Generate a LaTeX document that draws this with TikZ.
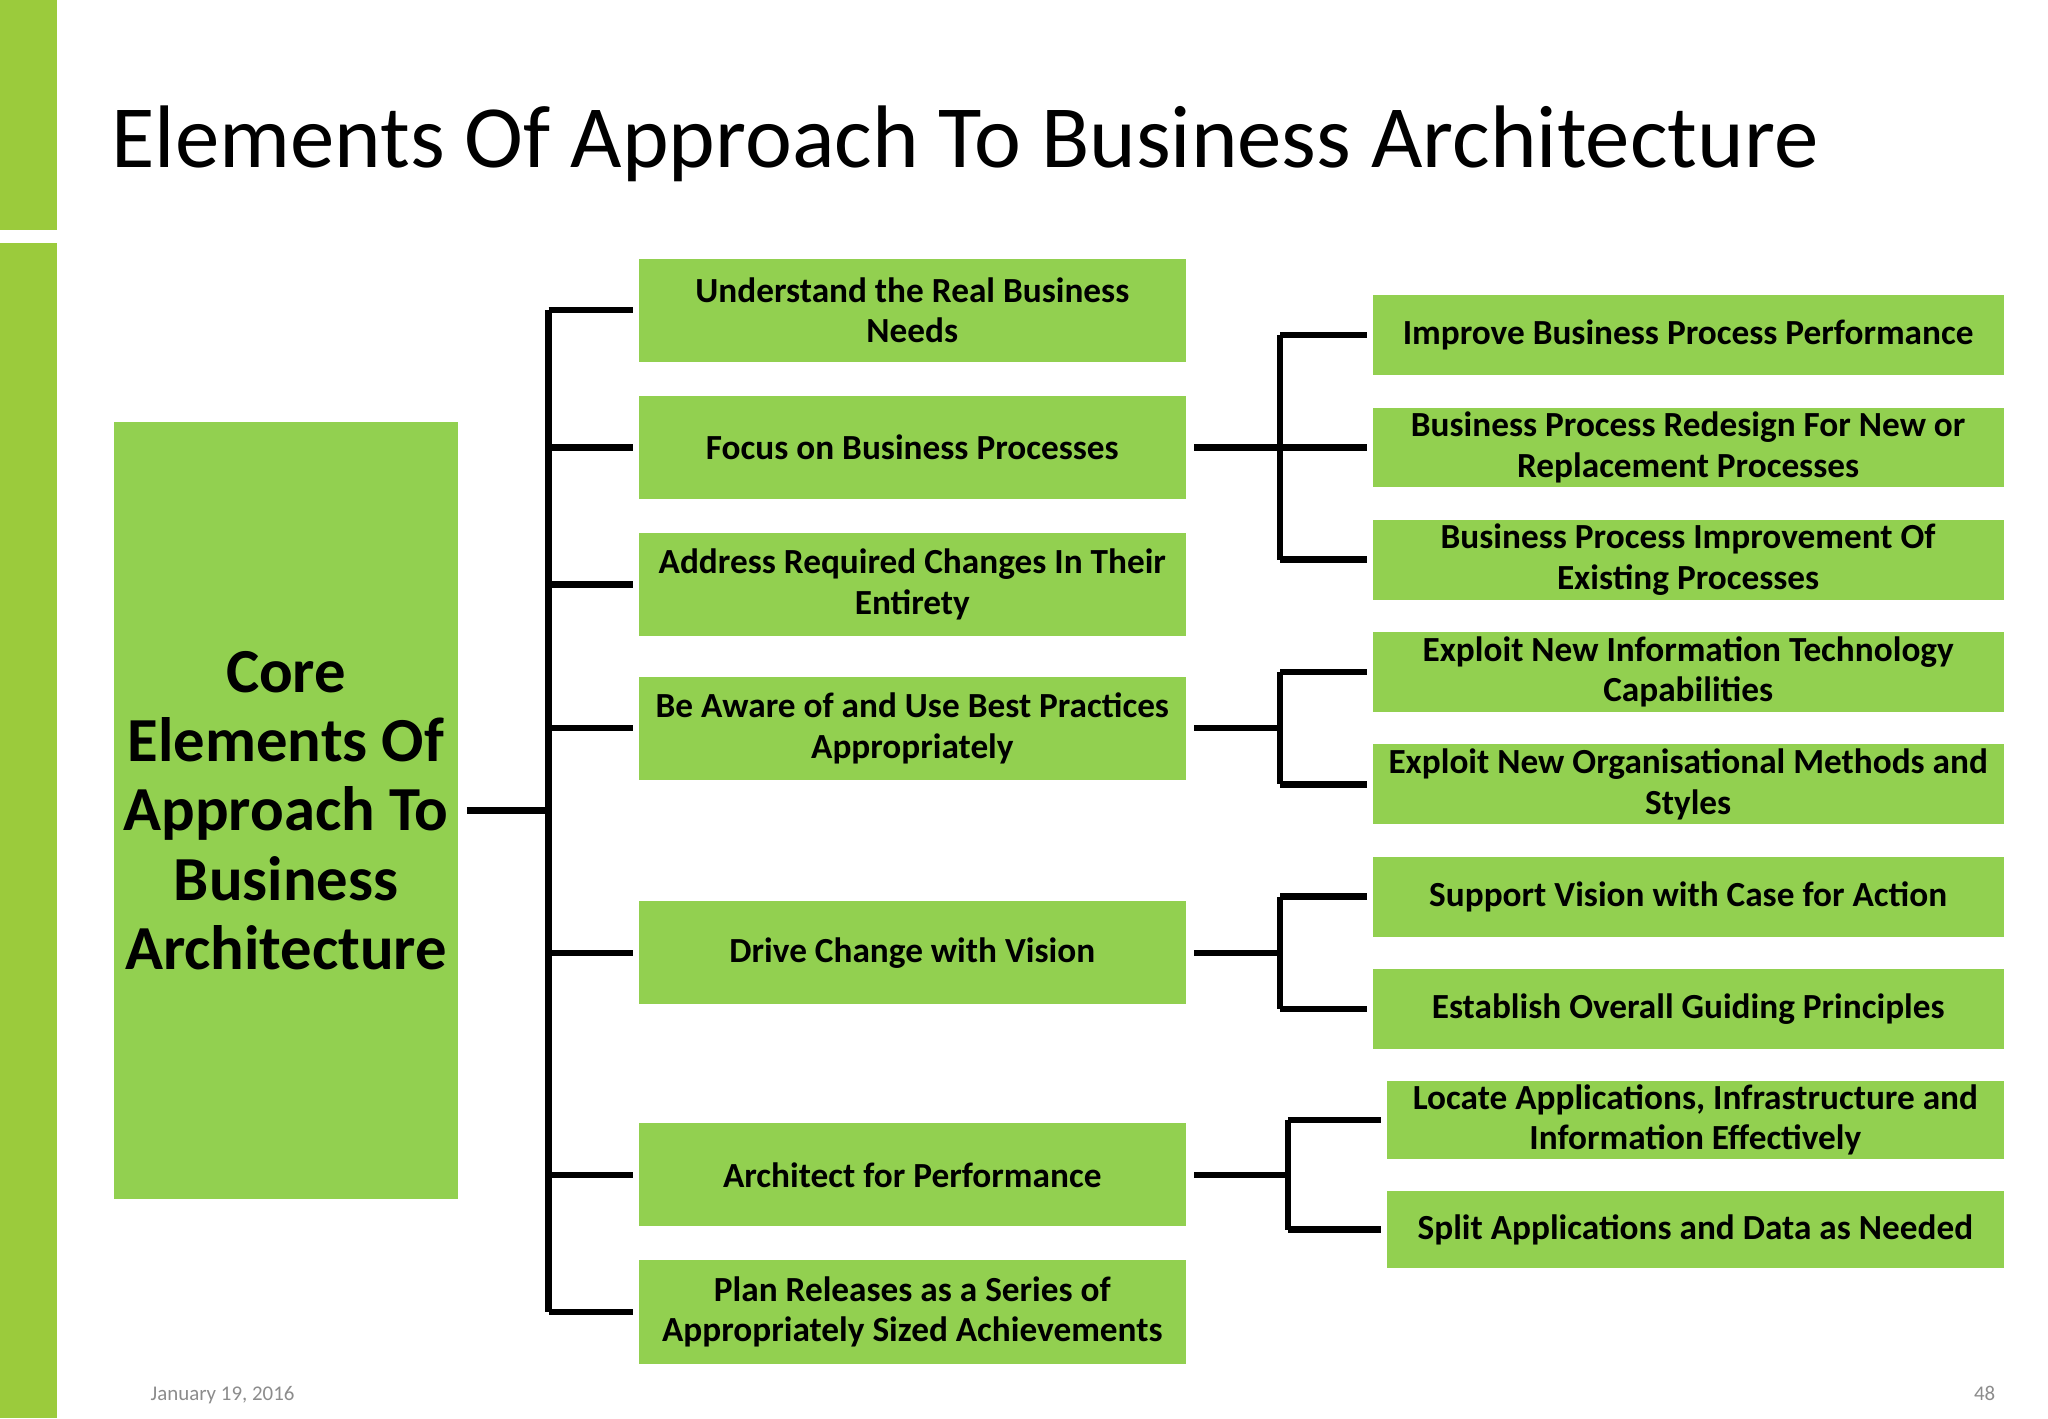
\documentclass[tikz,border=0pt]{standalone}
\usepackage{fontspec}
\setmainfont{Carlito}
\definecolor{bar}{HTML}{9BCB3C}
\definecolor{box}{HTML}{92D050}
\definecolor{foot}{HTML}{8C8C8C}
\tikzset{
 bx/.style={fill=box,draw=none,inner sep=0pt,align=center,font=\bfseries\fontsize{13.5}{15.5}\selectfont},
 ln/.style={line width=2.5pt,draw=black}
}
\begin{document}
\begin{tikzpicture}[x=0.5pt,y=-0.5pt]
\useasboundingbox (0,0) rectangle (1568,1086);
\fill[white] (0,0) rectangle (1568,1086);
\fill[bar] (0,0) rectangle (44,176);
\fill[bar] (0,186) rectangle (44,1086);
\node[anchor=base west,inner sep=0pt,font=\fontsize{34}{40}\selectfont] (title) at (85,128) {Elements Of Approach To Business Architecture};
\node[anchor=base west,inner sep=0pt,text=foot,font=\fontsize{8}{9}\selectfont] (date) at (115,1072) {January 19, 2016};
\node[anchor=base east,inner sep=0pt,text=foot,font=\fontsize{8}{9}\selectfont] (pg) at (1528,1072) {48};
% core
\node[bx,minimum width=132pt,minimum height=297.5pt,font=\bfseries\fontsize{24}{26.5}\selectfont] (core) at (219,620.5) {Core\\Elements Of\\Approach To\\Business\\Architecture};
% middle boxes
\foreach \n/\y/\t in {m1/237.5/{Understand the Real Business\\Needs}, m2/342.5/{Focus on Business Processes}, m3/447.5/{Address Required Changes In Their\\Entirety}, m4/557.5/{Be Aware of and Use Best Practices\\Appropriately}, m5/729.5/{Drive Change with Vision}, m6/899.5/{Architect for Performance}, m7/1004.5/{Plan Releases as a Series of\\Appropriately Sized Achievements}}
 \node[bx,minimum width=209.5pt,minimum height=39.5pt] (\n) at (698.5,\y) {\t};
% right boxes
\foreach \n/\y/\t in {r1/256.5/{Improve Business Process Performance}, r2/342.5/{Business Process Redesign For New or\\Replacement Processes}, r3/428.5/{Business Process Improvement Of\\Existing Processes}, r4/514.5/{Exploit New Information Technology\\Capabilities}, r5/600.5/{Exploit New Organisational Methods and\\Styles}, r6/686.5/{Support Vision with Case for Action}, r7/772.5/{Establish Overall Guiding Principles}}
 \node[bx,minimum width=241.5pt,minimum height=30.5pt] (\n) at (1292.5,\y) {\t};
\foreach \n/\y/\t in {r8/857.5/{Locate Applications, Infrastructure and\\Information Effectively}, r9/941.5/{Split Applications and Data as Needed}}
 \node[bx,minimum width=236pt,minimum height=29.5pt] (\n) at (1298,\y) {\t};
% left bracket
\coordinate (lv1) at (420,237.5);
\coordinate (lv2) at (420,1004.5);
\draw[ln] (lv1) -- (lv2);
\draw[ln] ([xshift=3pt]core.east) -- (420,620.5);
\foreach \n in {m1,m2,m3,m4,m5,m6,m7} \draw[ln] (420,0 |- \n.west) -- ([xshift=-2pt]\n.west);
% right brackets
\foreach \m/\a/\b/\xx in {m2/r1/r3/980, m4/r4/r5/980, m5/r6/r7/980, m6/r8/r9/986}{
 \draw[ln] ([xshift=3pt]\m.east) -- (\xx,0 |- \m.east);
 \draw[ln] (\xx,0 |- \a.west) -- (\xx,0 |- \b.west);
 \draw[ln] (\xx,0 |- \a.west) -- ([xshift=-2pt]\a.west);
 \draw[ln] (\xx,0 |- \b.west) -- ([xshift=-2pt]\b.west);
}
\draw[ln] (980,0 |- r2.west) -- ([xshift=-2pt]r2.west);
\end{tikzpicture}
\end{document}
